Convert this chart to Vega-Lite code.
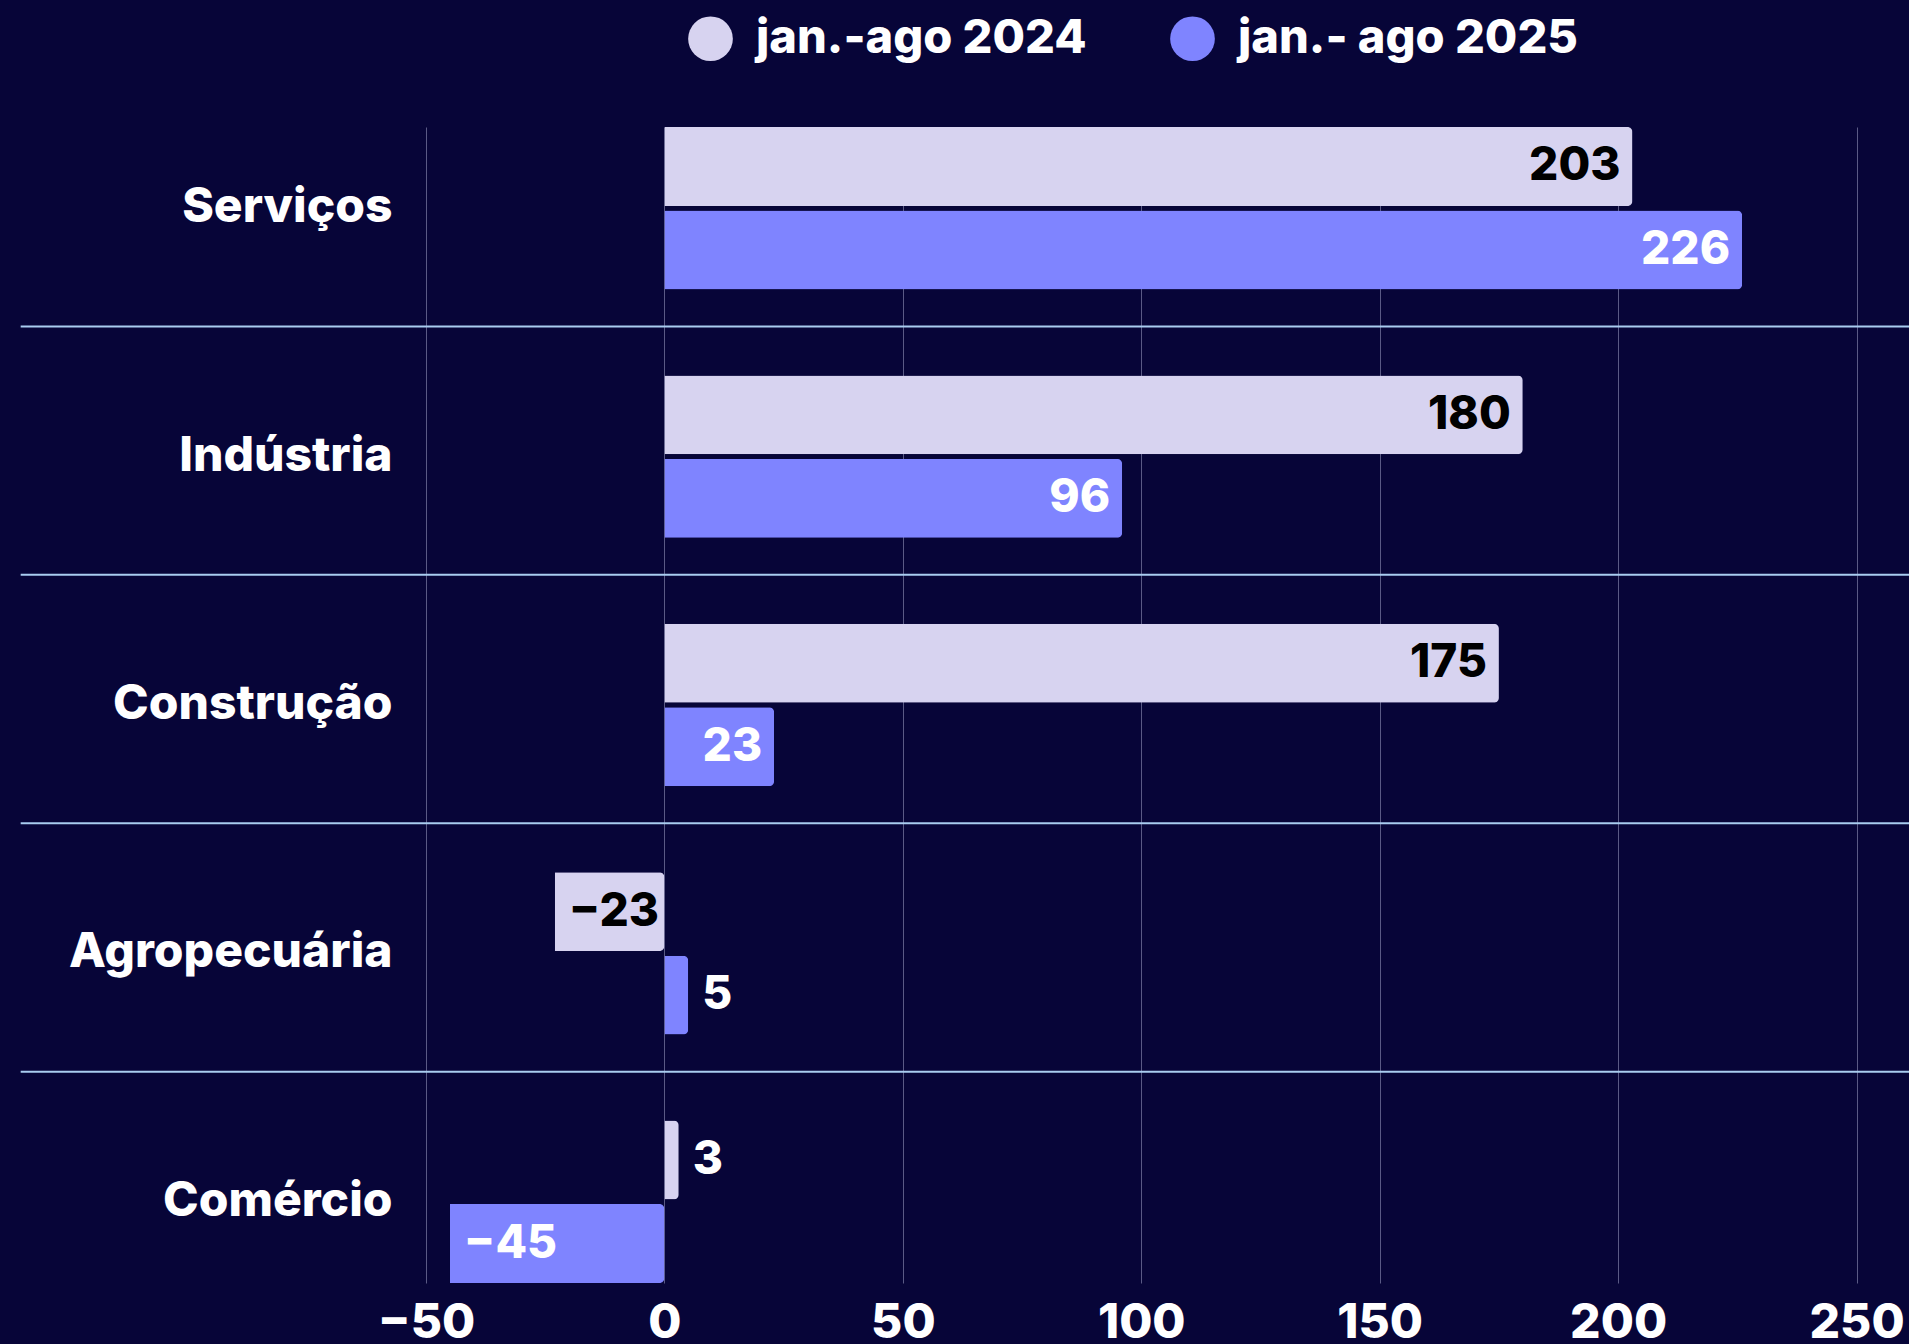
{
  "$schema": "https://vega.github.io/schema/vega-lite/v6.json",
  "width": 1483,
  "height": 1156,
  "autosize": {"type": "none"},
  "padding": {"left": 426, "top": 127, "right": 0, "bottom": 61},
  "background": "#070538",
  "config": {
    "view": {"stroke": null},
    "font": "Inter",
    "axis": {"labelFont": "Inter", "labelFontWeight": 800, "labelColor": "#ffffff"},
    "legend": {"labelFont": "Inter", "labelFontWeight": 800, "labelColor": "#ffffff"}
  },
  "datasets": {
    "bars": [
      {"cat": "Serviços", "series": "jan.-ago 2024", "value": 203},
      {"cat": "Serviços", "series": "jan.- ago 2025", "value": 226},
      {"cat": "Indústria", "series": "jan.-ago 2024", "value": 180},
      {"cat": "Indústria", "series": "jan.- ago 2025", "value": 96},
      {"cat": "Construção", "series": "jan.-ago 2024", "value": 175},
      {"cat": "Construção", "series": "jan.- ago 2025", "value": 23},
      {"cat": "Agropecuária", "series": "jan.-ago 2024", "value": -23},
      {"cat": "Agropecuária", "series": "jan.- ago 2025", "value": 5},
      {"cat": "Comércio", "series": "jan.-ago 2024", "value": 3},
      {"cat": "Comércio", "series": "jan.- ago 2025", "value": -45}
    ],
    "seps": [
      {"cat": "Serviços"},
      {"cat": "Indústria"},
      {"cat": "Construção"},
      {"cat": "Agropecuária"}
    ]
  },
  "layer": [
    {
      "data": {"name": "seps"},
      "mark": {"type": "rule", "color": "#a9cdf0", "strokeWidth": 2, "clip": false},
      "encoding": {
        "y": {"field": "cat", "type": "nominal", "bandPosition": 1.228,
              "sort": ["Serviços", "Indústria", "Construção", "Agropecuária", "Comércio"]},
        "x": {"datum": -135},
        "x2": {"datum": 261}
      }
    },
    {
      "data": {"name": "bars"},
      "mark": {"type": "bar", "cornerRadiusEnd": 5},
      "encoding": {
        "y": {
          "field": "cat", "type": "nominal",
          "sort": ["Serviços", "Indústria", "Construção", "Agropecuária", "Comércio"],
          "scale": {"paddingInner": 0.346, "paddingOuter": 0},
          "axis": {"title": null, "domain": false, "ticks": false, "grid": false,
                   "labelFontSize": 48, "labelPadding": 34, "labelColor": "#ffffff", "labelLimit": 500}
        },
        "yOffset": {
          "field": "series", "type": "nominal",
          "sort": ["jan.-ago 2024", "jan.- ago 2025"],
          "scale": {"paddingInner": 0.055, "paddingOuter": 0}
        },
        "x": {
          "field": "value", "type": "quantitative",
          "scale": {"domain": [-50, 261], "nice": false, "zero": false},
          "axis": {"title": null, "values": [-50, 0, 50, 100, 150, 200, 250], "domain": false, "ticks": false,
                   "grid": true, "gridColor": "#5a5a85", "gridWidth": 1,
                   "labelFontSize": 48, "labelPadding": 16, "labelColor": "#ffffff", "labelFlush": false}
        },
        "color": {
          "field": "series", "type": "nominal",
          "scale": {"domain": ["jan.-ago 2024", "jan.- ago 2025"], "range": ["#d7d3f0", "#7f84ff"]},
          "legend": {
            "title": null, "orient": "none", "direction": "horizontal",
            "legendX": 261, "legendY": -112,
            "symbolType": "circle", "symbolSize": 2000, "symbolStrokeWidth": 0,
            "labelFontSize": 47, "labelOffset": 22, "columnPadding": 82, "labelLimit": 1000
          }
        }
      }
    },
    {
      "data": {"name": "bars"},
      "transform": [{"filter": "datum.value > 10"}],
      "mark": {"type": "text", "align": "right", "baseline": "middle", "dx": -12, "fontSize": 46, "fontWeight": 800},
      "encoding": {
        "y": {"field": "cat", "type": "nominal", "sort": ["Serviços", "Indústria", "Construção", "Agropecuária", "Comércio"]},
        "yOffset": {"field": "series", "type": "nominal", "sort": ["jan.-ago 2024", "jan.- ago 2025"]},
        "x": {"field": "value", "type": "quantitative"},
        "text": {"field": "value", "type": "quantitative"},
        "color": {"condition": {"test": "datum.series === 'jan.-ago 2024'", "value": "#000000"}, "value": "#ffffff"}
      }
    },
    {
      "data": {"name": "bars"},
      "transform": [{"filter": "datum.value <= 10"}],
      "mark": {"type": "text", "align": "left", "baseline": "middle", "dx": 14, "fontSize": 46, "fontWeight": 800},
      "encoding": {
        "y": {"field": "cat", "type": "nominal", "sort": ["Serviços", "Indústria", "Construção", "Agropecuária", "Comércio"]},
        "yOffset": {"field": "series", "type": "nominal", "sort": ["jan.-ago 2024", "jan.- ago 2025"]},
        "x": {"field": "value", "type": "quantitative"},
        "text": {"field": "value", "type": "quantitative"},
        "color": {"condition": {"test": "datum.value < 0 && datum.series === 'jan.-ago 2024'", "value": "#000000"}, "value": "#ffffff"}
      }
    }
  ]
}
